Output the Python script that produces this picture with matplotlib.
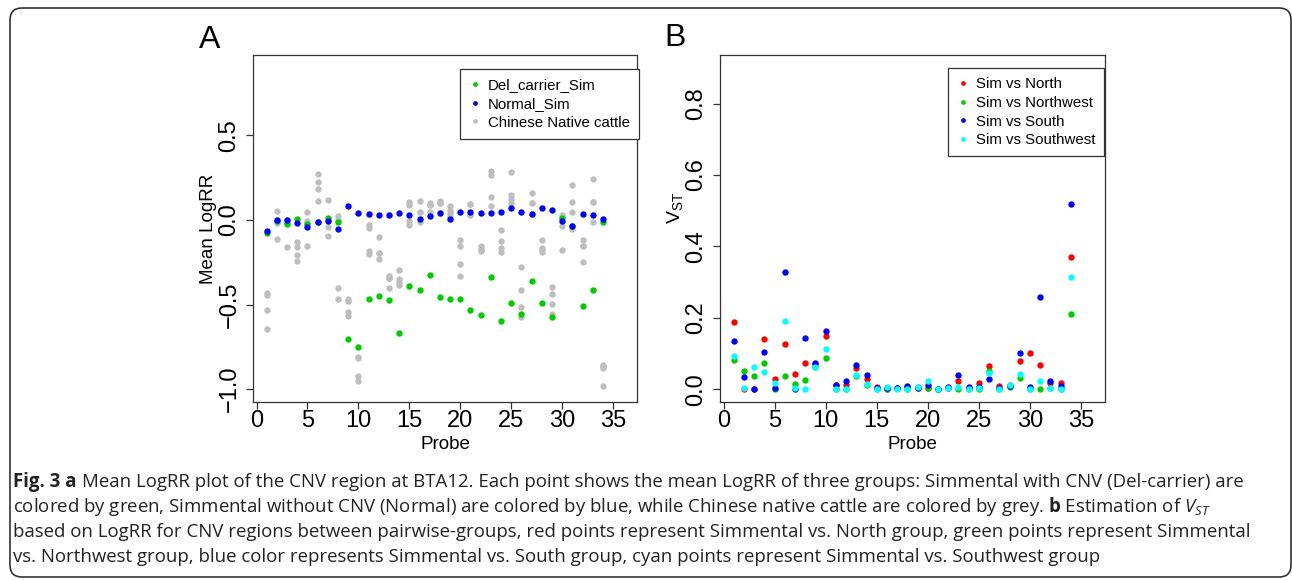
import numpy as np
import matplotlib
matplotlib.use("Agg")
import matplotlib.pyplot as plt
from matplotlib.lines import Line2D
from matplotlib.patches import FancyBboxPatch
from matplotlib.transforms import IdentityTransform

plt.rcParams['font.family'] = ['Liberation Sans', 'DejaVu Sans']
plt.rcParams['mathtext.fontset'] = 'custom'
plt.rcParams['mathtext.rm'] = 'Open Sans'
plt.rcParams['mathtext.bf'] = 'Open Sans:bold'
plt.rcParams['mathtext.it'] = 'Open Sans:italic'

# ---- data ----
probe = np.arange(1, 35)

del_carrier = [-0.075, -0.008, -0.022, 0.004, -0.026, -0.010, 0.014, -0.010, -0.702, -0.753,
               -0.465, -0.452, -0.475, -0.667, -0.392, -0.416, -0.327, -0.458, -0.465, -0.469,
               -0.533, -0.560, -0.335, -0.596, -0.493, -0.554, -0.359, -0.491, -0.572, 0.012,
               -0.037, -0.507, -0.414, -0.012]

normal_sim = [-0.063, 0.000, 0.000, -0.018, -0.041, -0.012, -0.008, -0.053, 0.081, 0.039,
              0.036, 0.032, 0.032, 0.039, 0.030, 0.008, 0.026, 0.039, 0.008, 0.047,
              0.047, 0.039, 0.039, 0.045, 0.069, 0.045, 0.037, 0.071, 0.057, -0.004,
              -0.034, 0.037, 0.032, 0.008]

# four Chinese native groups per probe
native = [
    [-0.432, -0.442, -0.529, -0.645], [0.053, -0.002, -0.020, -0.110],
    [-0.160, 0.000, -0.010, -0.020], [-0.132, -0.160, -0.207, -0.245],
    [0.047, -0.008, -0.020, -0.156], [0.274, 0.223, 0.183, 0.114],
    [0.118, 0.002, -0.043, -0.093], [0.022, 0.002, -0.400, -0.467],
    [-0.465, -0.481, -0.544, -0.570], [-0.809, -0.813, -0.925, -0.951],
    [-0.032, -0.045, -0.185, -0.199], [-0.101, -0.195, -0.229, -0.195],
    [-0.329, -0.345, -0.404, -0.345], [-0.296, -0.349, -0.367, -0.387],
    [0.105, 0.089, -0.008, -0.028], [0.112, 0.047, -0.014, 0.047],
    [0.100, 0.089, 0.047, 0.089], [0.114, 0.100, 0.043, 0.100],
    [0.081, 0.059, 0.041, 0.024], [-0.118, -0.156, -0.259, -0.328],
    [0.093, 0.028, 0.028, 0.093], [-0.156, -0.176, -0.185, -0.170],
    [0.292, 0.266, 0.134, 0.081], [-0.059, -0.124, -0.166, -0.189],
    [0.282, 0.146, 0.126, 0.100], [-0.280, -0.412, -0.517, -0.574],
    [0.160, 0.100, 0.036, 0.100], [-0.120, -0.166, -0.176, -0.189],
    [-0.396, -0.436, -0.499, -0.556], [0.031, 0.018, -0.036, -0.180],
    [0.209, 0.104, 0.047, -0.051], [-0.116, -0.156, -0.249, -0.156],
    [0.243, 0.105, -0.014, 0.105], [-0.856, -0.876, -0.980, -0.866],
]

vst_north = [0.188, 0.000, 0.000, 0.141, 0.029, 0.126, 0.042, 0.072, 0.070, 0.148,
             0.012, 0.012, 0.059, 0.029, 0.005, 0.000, 0.003, 0.006, 0.006, 0.004,
             0.001, 0.004, 0.023, 0.004, 0.017, 0.064, 0.008, 0.013, 0.079, 0.100,
             0.067, 0.017, 0.016, 0.369]
vst_northwest = [0.081, 0.052, 0.036, 0.072, 0.000, 0.037, 0.014, 0.025, 0.063, 0.087,
                 0.000, 0.000, 0.036, 0.013, 0.000, 0.000, 0.003, 0.001, 0.004, 0.003,
                 0.000, 0.002, 0.000, 0.000, 0.001, 0.050, 0.001, 0.007, 0.030, 0.000,
                 0.000, 0.002, 0.001, 0.211]
vst_south = [0.134, 0.034, 0.000, 0.104, 0.002, 0.329, 0.000, 0.143, 0.072, 0.163,
             0.013, 0.024, 0.067, 0.039, 0.004, 0.002, 0.003, 0.008, 0.004, 0.012,
             0.001, 0.007, 0.041, 0.007, 0.006, 0.028, 0.004, 0.010, 0.100, 0.005,
             0.258, 0.022, 0.008, 0.519]
vst_southwest = [0.092, 0.003, 0.063, 0.048, 0.017, 0.191, 0.004, 0.000, 0.062, 0.113,
                 0.000, 0.000, 0.041, 0.015, 0.000, 0.006, 0.001, 0.001, 0.006, 0.024,
                 0.000, 0.003, 0.006, 0.000, 0.003, 0.044, 0.000, 0.011, 0.043, 0.000,
                 0.024, 0.002, 0.000, 0.315]

caption_head = "Fig. 3 a"
caption = [
    "Mean LogRR plot of the CNV region at BTA12. Each point shows the mean LogRR of three groups: Simmental with CNV (Del-carrier) are",
    r"colored by green, Simmental without CNV (Normal) are colored by blue, while Chinese native cattle are colored by grey. $\mathbf{b}$ Estimation of $V_{ST}$",
    "based on LogRR for CNV regions between pairwise-groups, red points represent Simmental vs. North group, green points represent Simmental",
    "vs. Northwest group, blue color represents Simmental vs. South group, cyan points represent Simmental vs. Southwest group",
]

W, H = 1292, 580
fig = plt.figure(figsize=(W / 100, H / 100), dpi=100)


def px_axes(x0, y0, x1, y1):
    return fig.add_axes([x0 / W, 1 - y1 / H, (x1 - x0) / W, (y1 - y0) / H])


def style(ax):
    for s in ax.spines.values():
        s.set_linewidth(0.9)
        s.set_color('#333333')
    ax.tick_params(length=5, width=0.9, color='#333333', labelsize=17)
    ax.tick_params(axis='x', pad=1)
    ax.tick_params(axis='y', pad=4, labelrotation=90)
    for lab in ax.get_yticklabels():
        lab.set_va('center')
    ax.set_xlim(-0.35, 37.35)
    ax.set_xticks([0, 5, 10, 15, 20, 25, 30, 35])
    ax.set_xlabel("Probe", fontsize=13.5)
    ax.xaxis.set_label_coords(0.5, -0.098)


def legend(ax, colors, labels, x, y):
    handles = [Line2D([], [], marker='o', ls='none', color=c, ms=3.4, mew=0) for c in colors]
    leg = ax.legend(handles, labels, loc='upper left', bbox_to_anchor=(x / W, 1 - y / H),
                    bbox_transform=fig.transFigure, fontsize=10.8, frameon=True,
                    fancybox=False, framealpha=1, edgecolor='#333333',
                    handlelength=0.8, handletextpad=0.45, borderpad=0.6,
                    labelspacing=0.32, borderaxespad=0)
    leg.get_frame().set_linewidth(0.9)


ms = 4.6

# ---- panel A ----
axA = px_axes(253, 55, 637, 402)
axA.plot(np.repeat(probe, 4), np.ravel(native), 'o', color='#BEBEBE', ms=ms, mew=0)
axA.plot(probe, del_carrier, 'o', color='#00CD00', ms=ms, mew=0)
axA.plot(probe, normal_sim, 'o', color='#0000FF', ms=ms, mew=0)
axA.set_ylim(-1.076, 0.976)
axA.set_yticks([-1.0, -0.5, 0.0, 0.5])
axA.set_yticklabels(["\u22121.0", "\u22120.5", "0.0", "0.5"])
style(axA)
axA.set_ylabel("Mean LogRR", fontsize=13.5)
axA.yaxis.set_label_coords(-0.094, 0.5)
legend(axA, ['#00CD00', '#0000FF', '#BEBEBE'],
       ["Del_carrier_Sim", "Normal_Sim", "Chinese Native cattle"], 460, 69)

# ---- panel B ----
axB = px_axes(720, 55, 1105, 402)
axB.plot(probe, vst_north, 'o', color='#FF0000', ms=ms, mew=0)
axB.plot(probe, vst_northwest, 'o', color='#00CD00', ms=ms, mew=0)
axB.plot(probe, vst_south, 'o', color='#0000FF', ms=ms, mew=0)
axB.plot(probe, vst_southwest, 'o', color='#00FFFF', ms=ms, mew=0)
axB.set_ylim(-0.036, 0.936)
axB.set_yticks([0.0, 0.2, 0.4, 0.6, 0.8])
style(axB)
axB.set_ylabel(r"$\mathregular{V_{ST}}$", fontsize=14)
axB.yaxis.set_label_coords(-0.091, 0.56)
legend(axB, ['#FF0000', '#00CD00', '#0000FF', '#00FFFF'],
       ["Sim vs North", "Sim vs Northwest", "Sim vs South", "Sim vs Southwest"], 948, 68)

# panel letters
fig.text(210 / W, 1 - 47.5 / H, "A", fontsize=23, ha='center', va='baseline')
fig.text(675 / W, 1 - 46.5 / H, "B", fontsize=23, ha='center', va='baseline')

# caption
cap_kw = dict(fontsize=13.4, family='Open Sans', math_fontfamily='custom',
              ha='left', va='baseline', color='#222222')
head = fig.text(13 / W, 1 - 487 / H, caption_head, fontweight='bold', **cap_kw)
renderer = fig.canvas.get_renderer()
head_end = head.get_window_extent(renderer).x1
for i, line in enumerate(caption):
    x = (head_end + 5) / W if i == 0 else 13 / W
    fig.text(x, 1 - (487 + 25 * i) / H, line, **cap_kw)

# rounded frame around the figure
frame = FancyBboxPatch((10, 3), 1281, 569, boxstyle="round,pad=0,rounding_size=12",
                       transform=IdentityTransform(), fill=False, lw=1.2,
                       edgecolor='#333333', clip_on=False)
fig.patches.append(frame)

fig.savefig("out.png", dpi=100)
